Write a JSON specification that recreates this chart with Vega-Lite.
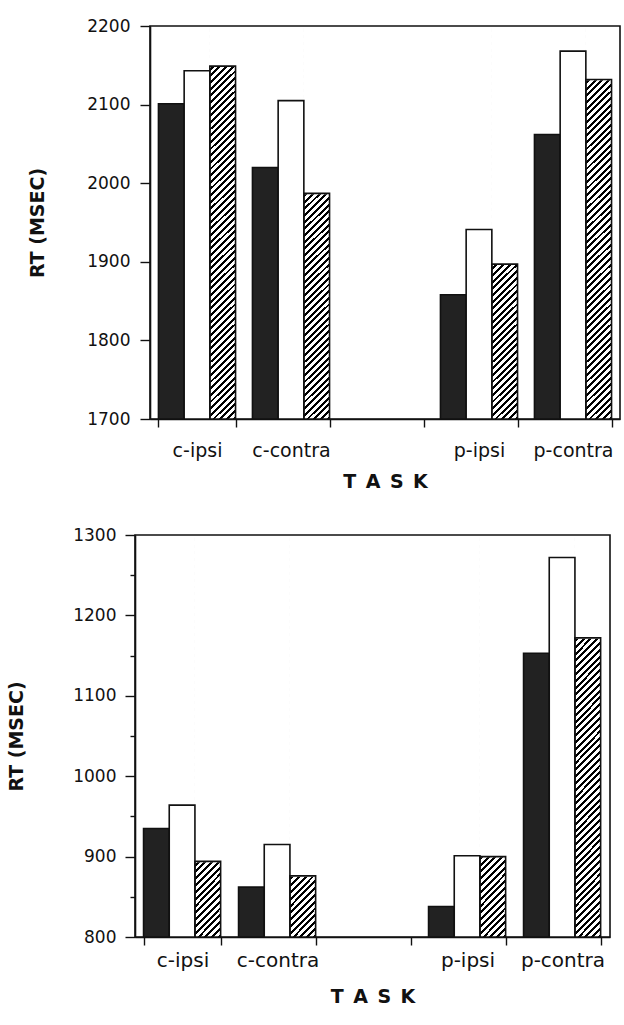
{
  "$schema": "https://vega.github.io/schema/vega-lite/v6.json",
  "background": "white",
  "padding": {"left": 6, "top": 16, "right": 0, "bottom": 0},
  "datasets": {
    "top": [
      {"task": "c-ipsi", "cond": "dark", "rt": 2101},
      {"task": "c-ipsi", "cond": "white", "rt": 2143},
      {"task": "c-ipsi", "cond": "hatched", "rt": 2149},
      {"task": "c-contra", "cond": "dark", "rt": 2020},
      {"task": "c-contra", "cond": "white", "rt": 2105},
      {"task": "c-contra", "cond": "hatched", "rt": 1987},
      {"task": "p-ipsi", "cond": "dark", "rt": 1858},
      {"task": "p-ipsi", "cond": "white", "rt": 1941},
      {"task": "p-ipsi", "cond": "hatched", "rt": 1897},
      {"task": "p-contra", "cond": "dark", "rt": 2062},
      {"task": "p-contra", "cond": "white", "rt": 2168},
      {"task": "p-contra", "cond": "hatched", "rt": 2132}
    ],
    "bottom": [
      {"task": "c-ipsi", "cond": "dark", "rt": 935},
      {"task": "c-ipsi", "cond": "white", "rt": 964},
      {"task": "c-ipsi", "cond": "hatched", "rt": 894},
      {"task": "c-contra", "cond": "dark", "rt": 862},
      {"task": "c-contra", "cond": "white", "rt": 915},
      {"task": "c-contra", "cond": "hatched", "rt": 876},
      {"task": "p-ipsi", "cond": "dark", "rt": 838},
      {"task": "p-ipsi", "cond": "white", "rt": 901},
      {"task": "p-ipsi", "cond": "hatched", "rt": 900},
      {"task": "p-contra", "cond": "dark", "rt": 1153},
      {"task": "p-contra", "cond": "white", "rt": 1272},
      {"task": "p-contra", "cond": "hatched", "rt": 1172}
    ]
  },
  "spacing": 33,
  "vconcat": [
    {
      "spacing": 0,
      "bounds": "flush",
      "hconcat": [
        {"width": 15, "height": 10, "data": {"values": []}, "mark": "point", "view": {"stroke": null}},
        {
          "width": 470,
          "height": 393,
          "data": {"name": "top"},
          "encoding": {
            "x": {
              "field": "task", "type": "nominal", "title": "T\u2002A\u2002S\u2002K",
              "scale": {"domain": ["c-ipsi", "c-contra", " ", "p-ipsi", "p-contra"], "paddingInner": 0.18, "paddingOuter": 0.09},
              "axis": {"tickBand": "extent", "labelAngle": 0, "tickSize": 8, "labelFontSize": 19, "labelPadding": 14, "titlePadding": 12}
            },
            "xOffset": {"field": "cond", "type": "nominal", "scale": {"domain": ["dark", "white", "hatched"], "paddingInner": 0, "paddingOuter": 0}}
          },
          "layer": [
            {
              "transform": [{"filter": "datum.cond === 'hatched'"}],
              "mark": {"type": "bar"},
              "encoding": {
                "y": {"datum": 2197, "type": "quantitative", "title": "RT (MSEC)", "scale": {"domain": [1700, 2200], "nice": false, "zero": false}},
                "y2": {"datum": 1700}
              }
            },
            {
              "transform": [{"filter": "datum.cond === 'hatched'"}],
              "mark": {"type": "bar", "fill": "#ffffff", "stroke": "#ffffff", "strokeWidth": 1.5},
              "encoding": {
                "y": {"field": "rt", "type": "quantitative", "title": "RT (MSEC)"},
                "y2": {"datum": 2197}
              }
            },
            {
              "mark": {"type": "bar", "stroke": "#111111", "strokeWidth": 1.6},
              "encoding": {
                "y": {
                  "field": "rt", "type": "quantitative", "title": "RT (MSEC)",
                  "axis": {
                    "values": [1700, 1750, 1800, 1850, 1900, 1950, 2000, 2050, 2100, 2150, 2200],
                    "format": "d",
                    "labelExpr": "datum.value % 100 === 0 ? datum.label : ''",
                    "tickSize": {"condition": {"test": "datum.value % 100 === 0", "value": 10}, "value": 5},
                    "labelFontSize": 17, "labelPadding": 10, "titlePadding": 39
                  }
                },
                "y2": {"datum": 1700},
                "fill": {"condition": [{"test": "datum.cond === 'dark'", "value": "#222222"}, {"test": "datum.cond === 'hatched'", "value": "transparent"}], "value": "#ffffff"}
              }
            }
          ]
        }
      ]
    },
    {
      "width": 475,
      "height": 402,
      "data": {"name": "bottom"},
      "encoding": {
        "x": {
          "field": "task", "type": "nominal", "title": "T\u2002A\u2002S\u2002K",
          "scale": {"domain": ["c-ipsi", "c-contra", " ", "p-ipsi", "p-contra"], "paddingInner": 0.18, "paddingOuter": 0.09},
          "axis": {"tickBand": "extent", "labelAngle": 0, "tickSize": 8, "labelFontSize": 20, "labelPadding": 5, "titlePadding": 17}
        },
        "xOffset": {"field": "cond", "type": "nominal", "scale": {"domain": ["dark", "white", "hatched"], "paddingInner": 0, "paddingOuter": 0}}
      },
      "layer": [
        {
          "transform": [{"filter": "datum.cond === 'hatched'"}],
          "mark": {"type": "bar"},
          "encoding": {
            "y": {"datum": 1297, "type": "quantitative", "title": "RT (MSEC)", "scale": {"domain": [800, 1300], "nice": false, "zero": false}},
            "y2": {"datum": 800}
          }
        },
        {
          "transform": [{"filter": "datum.cond === 'hatched'"}],
          "mark": {"type": "bar", "fill": "#ffffff", "stroke": "#ffffff", "strokeWidth": 1.5},
          "encoding": {
            "y": {"field": "rt", "type": "quantitative", "title": "RT (MSEC)"},
            "y2": {"datum": 1297}
          }
        },
        {
          "mark": {"type": "bar", "stroke": "#111111", "strokeWidth": 1.6},
          "encoding": {
            "y": {
              "field": "rt", "type": "quantitative", "title": "RT (MSEC)",
              "axis": {
                "values": [800, 850, 900, 950, 1000, 1050, 1100, 1150, 1200, 1250, 1300],
                "format": "d",
                "labelExpr": "datum.value % 100 === 0 ? datum.label : ''",
                "tickSize": {"condition": {"test": "datum.value % 100 === 0", "value": 10}, "value": 5},
                "labelFontSize": 17, "labelPadding": 9, "titlePadding": 46
              }
            },
            "y2": {"datum": 800},
            "fill": {"condition": [{"test": "datum.cond === 'dark'", "value": "#222222"}, {"test": "datum.cond === 'hatched'", "value": "transparent"}], "value": "#ffffff"}
          }
        }
      ]
    }
  ],
  "config": {
    "font": "DejaVu Sans",
    "view": {"stroke": "#111111", "strokeWidth": 1.6},
    "axis": {
      "domainColor": "#111111", "domainWidth": 1.6, "tickColor": "#111111", "tickWidth": 1.4,
      "labelColor": "#111111", "titleColor": "#111111", "labelFont": "DejaVu Sans", "titleFont": "DejaVu Sans",
      "titleFontWeight": "bold", "titleFontSize": 19, "grid": false
    },
    "mark": {
      "color": {
          "gradient": "linear", "x1": 0, "y1": 0, "x2": 0.069, "y2": 1.0606,
          "stops": [
            {"offset":0,"color":"#000"},{"offset":0.007,"color":"#000"},{"offset":0.007,"color":"#fff"},{"offset":0.016,"color":"#fff"},
            {"offset":0.016,"color":"#000"},{"offset":0.023,"color":"#000"},{"offset":0.023,"color":"#fff"},{"offset":0.032,"color":"#fff"},
            {"offset":0.032,"color":"#000"},{"offset":0.039,"color":"#000"},{"offset":0.039,"color":"#fff"},{"offset":0.048,"color":"#fff"},
            {"offset":0.048,"color":"#000"},{"offset":0.055,"color":"#000"},{"offset":0.055,"color":"#fff"},{"offset":0.064,"color":"#fff"},
            {"offset":0.064,"color":"#000"},{"offset":0.071,"color":"#000"},{"offset":0.071,"color":"#fff"},{"offset":0.08,"color":"#fff"},
            {"offset":0.08,"color":"#000"},{"offset":0.087,"color":"#000"},{"offset":0.087,"color":"#fff"},{"offset":0.096,"color":"#fff"},
            {"offset":0.096,"color":"#000"},{"offset":0.103,"color":"#000"},{"offset":0.103,"color":"#fff"},{"offset":0.112,"color":"#fff"},
            {"offset":0.112,"color":"#000"},{"offset":0.119,"color":"#000"},{"offset":0.119,"color":"#fff"},{"offset":0.128,"color":"#fff"},
            {"offset":0.128,"color":"#000"},{"offset":0.135,"color":"#000"},{"offset":0.135,"color":"#fff"},{"offset":0.144,"color":"#fff"},
            {"offset":0.144,"color":"#000"},{"offset":0.151,"color":"#000"},{"offset":0.151,"color":"#fff"},{"offset":0.16,"color":"#fff"},
            {"offset":0.16,"color":"#000"},{"offset":0.167,"color":"#000"},{"offset":0.167,"color":"#fff"},{"offset":0.176,"color":"#fff"},
            {"offset":0.176,"color":"#000"},{"offset":0.183,"color":"#000"},{"offset":0.183,"color":"#fff"},{"offset":0.192,"color":"#fff"},
            {"offset":0.192,"color":"#000"},{"offset":0.199,"color":"#000"},{"offset":0.199,"color":"#fff"},{"offset":0.208,"color":"#fff"},
            {"offset":0.208,"color":"#000"},{"offset":0.215,"color":"#000"},{"offset":0.215,"color":"#fff"},{"offset":0.224,"color":"#fff"},
            {"offset":0.224,"color":"#000"},{"offset":0.231,"color":"#000"},{"offset":0.231,"color":"#fff"},{"offset":0.24,"color":"#fff"},
            {"offset":0.24,"color":"#000"},{"offset":0.247,"color":"#000"},{"offset":0.247,"color":"#fff"},{"offset":0.256,"color":"#fff"},
            {"offset":0.256,"color":"#000"},{"offset":0.263,"color":"#000"},{"offset":0.263,"color":"#fff"},{"offset":0.272,"color":"#fff"},
            {"offset":0.272,"color":"#000"},{"offset":0.279,"color":"#000"},{"offset":0.279,"color":"#fff"},{"offset":0.288,"color":"#fff"},
            {"offset":0.288,"color":"#000"},{"offset":0.295,"color":"#000"},{"offset":0.295,"color":"#fff"},{"offset":0.304,"color":"#fff"},
            {"offset":0.304,"color":"#000"},{"offset":0.311,"color":"#000"},{"offset":0.311,"color":"#fff"},{"offset":0.32,"color":"#fff"},
            {"offset":0.32,"color":"#000"},{"offset":0.327,"color":"#000"},{"offset":0.327,"color":"#fff"},{"offset":0.336,"color":"#fff"},
            {"offset":0.336,"color":"#000"},{"offset":0.343,"color":"#000"},{"offset":0.343,"color":"#fff"},{"offset":0.352,"color":"#fff"},
            {"offset":0.352,"color":"#000"},{"offset":0.359,"color":"#000"},{"offset":0.359,"color":"#fff"},{"offset":0.368,"color":"#fff"},
            {"offset":0.368,"color":"#000"},{"offset":0.375,"color":"#000"},{"offset":0.375,"color":"#fff"},{"offset":0.384,"color":"#fff"},
            {"offset":0.384,"color":"#000"},{"offset":0.391,"color":"#000"},{"offset":0.391,"color":"#fff"},{"offset":0.4,"color":"#fff"},
            {"offset":0.4,"color":"#000"},{"offset":0.407,"color":"#000"},{"offset":0.407,"color":"#fff"},{"offset":0.416,"color":"#fff"},
            {"offset":0.416,"color":"#000"},{"offset":0.423,"color":"#000"},{"offset":0.423,"color":"#fff"},{"offset":0.432,"color":"#fff"},
            {"offset":0.432,"color":"#000"},{"offset":0.439,"color":"#000"},{"offset":0.439,"color":"#fff"},{"offset":0.448,"color":"#fff"},
            {"offset":0.448,"color":"#000"},{"offset":0.455,"color":"#000"},{"offset":0.455,"color":"#fff"},{"offset":0.464,"color":"#fff"},
            {"offset":0.464,"color":"#000"},{"offset":0.471,"color":"#000"},{"offset":0.471,"color":"#fff"},{"offset":0.48,"color":"#fff"},
            {"offset":0.48,"color":"#000"},{"offset":0.487,"color":"#000"},{"offset":0.487,"color":"#fff"},{"offset":0.496,"color":"#fff"},
            {"offset":0.496,"color":"#000"},{"offset":0.503,"color":"#000"},{"offset":0.503,"color":"#fff"},{"offset":0.512,"color":"#fff"},
            {"offset":0.512,"color":"#000"},{"offset":0.519,"color":"#000"},{"offset":0.519,"color":"#fff"},{"offset":0.528,"color":"#fff"},
            {"offset":0.528,"color":"#000"},{"offset":0.535,"color":"#000"},{"offset":0.535,"color":"#fff"},{"offset":0.544,"color":"#fff"},
            {"offset":0.544,"color":"#000"},{"offset":0.551,"color":"#000"},{"offset":0.551,"color":"#fff"},{"offset":0.56,"color":"#fff"},
            {"offset":0.56,"color":"#000"},{"offset":0.567,"color":"#000"},{"offset":0.567,"color":"#fff"},{"offset":0.576,"color":"#fff"},
            {"offset":0.576,"color":"#000"},{"offset":0.583,"color":"#000"},{"offset":0.583,"color":"#fff"},{"offset":0.592,"color":"#fff"},
            {"offset":0.592,"color":"#000"},{"offset":0.599,"color":"#000"},{"offset":0.599,"color":"#fff"},{"offset":0.608,"color":"#fff"},
            {"offset":0.608,"color":"#000"},{"offset":0.615,"color":"#000"},{"offset":0.615,"color":"#fff"},{"offset":0.624,"color":"#fff"},
            {"offset":0.624,"color":"#000"},{"offset":0.631,"color":"#000"},{"offset":0.631,"color":"#fff"},{"offset":0.64,"color":"#fff"},
            {"offset":0.64,"color":"#000"},{"offset":0.647,"color":"#000"},{"offset":0.647,"color":"#fff"},{"offset":0.656,"color":"#fff"},
            {"offset":0.656,"color":"#000"},{"offset":0.663,"color":"#000"},{"offset":0.663,"color":"#fff"},{"offset":0.672,"color":"#fff"},
            {"offset":0.672,"color":"#000"},{"offset":0.679,"color":"#000"},{"offset":0.679,"color":"#fff"},{"offset":0.688,"color":"#fff"},
            {"offset":0.688,"color":"#000"},{"offset":0.695,"color":"#000"},{"offset":0.695,"color":"#fff"},{"offset":0.704,"color":"#fff"},
            {"offset":0.704,"color":"#000"},{"offset":0.711,"color":"#000"},{"offset":0.711,"color":"#fff"},{"offset":0.72,"color":"#fff"},
            {"offset":0.72,"color":"#000"},{"offset":0.727,"color":"#000"},{"offset":0.727,"color":"#fff"},{"offset":0.736,"color":"#fff"},
            {"offset":0.736,"color":"#000"},{"offset":0.743,"color":"#000"},{"offset":0.743,"color":"#fff"},{"offset":0.752,"color":"#fff"},
            {"offset":0.752,"color":"#000"},{"offset":0.759,"color":"#000"},{"offset":0.759,"color":"#fff"},{"offset":0.768,"color":"#fff"},
            {"offset":0.768,"color":"#000"},{"offset":0.775,"color":"#000"},{"offset":0.775,"color":"#fff"},{"offset":0.784,"color":"#fff"},
            {"offset":0.784,"color":"#000"},{"offset":0.791,"color":"#000"},{"offset":0.791,"color":"#fff"},{"offset":0.8,"color":"#fff"},
            {"offset":0.8,"color":"#000"},{"offset":0.807,"color":"#000"},{"offset":0.807,"color":"#fff"},{"offset":0.816,"color":"#fff"},
            {"offset":0.816,"color":"#000"},{"offset":0.823,"color":"#000"},{"offset":0.823,"color":"#fff"},{"offset":0.832,"color":"#fff"},
            {"offset":0.832,"color":"#000"},{"offset":0.839,"color":"#000"},{"offset":0.839,"color":"#fff"},{"offset":0.848,"color":"#fff"},
            {"offset":0.848,"color":"#000"},{"offset":0.855,"color":"#000"},{"offset":0.855,"color":"#fff"},{"offset":0.864,"color":"#fff"},
            {"offset":0.864,"color":"#000"},{"offset":0.871,"color":"#000"},{"offset":0.871,"color":"#fff"},{"offset":0.88,"color":"#fff"},
            {"offset":0.88,"color":"#000"},{"offset":0.887,"color":"#000"},{"offset":0.887,"color":"#fff"},{"offset":0.896,"color":"#fff"},
            {"offset":0.896,"color":"#000"},{"offset":0.903,"color":"#000"},{"offset":0.903,"color":"#fff"},{"offset":0.912,"color":"#fff"},
            {"offset":0.912,"color":"#000"},{"offset":0.919,"color":"#000"},{"offset":0.919,"color":"#fff"},{"offset":0.928,"color":"#fff"},
            {"offset":0.928,"color":"#000"},{"offset":0.935,"color":"#000"},{"offset":0.935,"color":"#fff"},{"offset":0.944,"color":"#fff"},
            {"offset":0.944,"color":"#000"},{"offset":0.951,"color":"#000"},{"offset":0.951,"color":"#fff"},{"offset":0.96,"color":"#fff"},
            {"offset":0.96,"color":"#000"},{"offset":0.967,"color":"#000"},{"offset":0.967,"color":"#fff"},{"offset":0.976,"color":"#fff"},
            {"offset":0.976,"color":"#000"},{"offset":0.983,"color":"#000"},{"offset":0.983,"color":"#fff"},{"offset":0.992,"color":"#fff"},
            {"offset":0.992,"color":"#000"},{"offset":0.999,"color":"#000"},{"offset":0.999,"color":"#fff"},{"offset":1,"color":"#fff"}
          ]
      }
    }
  }
}
